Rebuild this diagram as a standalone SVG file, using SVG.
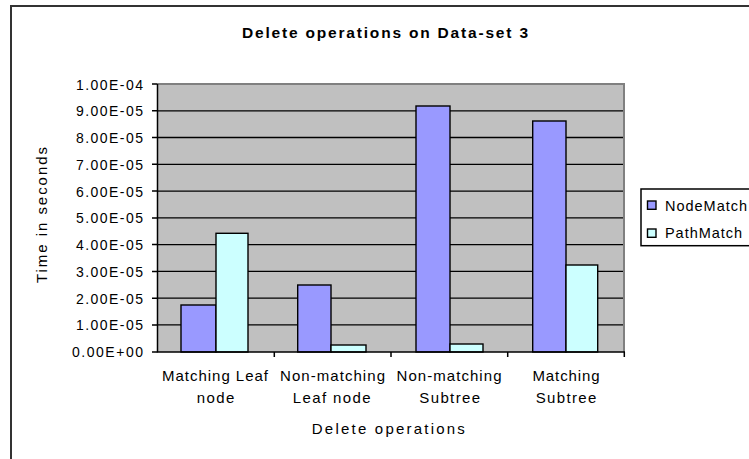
<svg xmlns="http://www.w3.org/2000/svg" width="749" height="459" viewBox="0 0 749 459">
  <style>
    text { font-family: "Liberation Sans", Arial, sans-serif; fill: #000; }
    .title { font-size: 15.5px; font-weight: bold; }
    .tick { font-size: 14px; text-anchor: end; }
    .cat { font-size: 15px; text-anchor: middle; }
    .axt { font-size: 15px; text-anchor: middle; }
    .leg { font-size: 14.5px; }
    .grid { stroke: #000; stroke-width: 1.3; }
    .axis { stroke: #000; stroke-width: 1.5; fill: none; }
    .node { fill: #9999FF; stroke: #000; stroke-width: 1.4; }
    .path { fill: #CCFFFF; stroke: #000; stroke-width: 1.4; }
  </style>

  <!-- chart frame (left and top edges visible) -->
  <rect x="11" y="6" width="800" height="500" fill="#fff" stroke="#333" stroke-width="2"/>

  <text class="title" x="242" y="37.7" textLength="286" lengthAdjust="spacing">Delete operations on Data-set 3</text>

  <!-- plot area -->
  <g id="plot">
    <rect x="157.5" y="84" width="466.5" height="268" fill="#C0C0C0"/>
    <g class="grid">
      <line x1="157.5" y1="110.8" x2="624" y2="110.8"/>
      <line x1="157.5" y1="137.5" x2="624" y2="137.5"/>
      <line x1="157.5" y1="164.3" x2="624" y2="164.3"/>
      <line x1="157.5" y1="191.1" x2="624" y2="191.1"/>
      <line x1="157.5" y1="217.9" x2="624" y2="217.9"/>
      <line x1="157.5" y1="244.6" x2="624" y2="244.6"/>
      <line x1="157.5" y1="271.4" x2="624" y2="271.4"/>
      <line x1="157.5" y1="298.2" x2="624" y2="298.2"/>
      <line x1="157.5" y1="324.9" x2="624" y2="324.9"/>
    </g>
    <!-- plot border top/right -->
    <path d="M157.5 84 H624 V352" fill="none" stroke="#808080" stroke-width="2"/>
  </g>

  <!-- bars -->
  <g id="bars">
    <rect class="node" x="181" y="305" width="35" height="47"/>
    <rect class="path" x="216" y="233.3" width="32" height="118.7"/>
    <rect class="node" x="297.7" y="285" width="33.3" height="67"/>
    <rect class="path" x="331" y="345" width="35" height="7"/>
    <rect class="node" x="416" y="106" width="34" height="246"/>
    <rect class="path" x="450" y="344" width="33" height="8"/>
    <rect class="node" x="532.7" y="121" width="33.3" height="231"/>
    <rect class="path" x="566" y="265" width="31.7" height="87"/>
  </g>

  <!-- axes and ticks -->
  <g id="axes" class="axis">
    <path d="M157.5 84 V352 H625"/>
    <path d="M152 84 H157.5 M152 110.8 H157.5 M152 137.5 H157.5 M152 164.3 H157.5 M152 191.1 H157.5 M152 217.9 H157.5 M152 244.6 H157.5 M152 271.4 H157.5 M152 298.2 H157.5 M152 324.9 H157.5 M152 352 H157.5"/>
    <path d="M274.3 352 V357 M391 352 V357 M507.7 352 V357 M624.3 352 V357"/>
  </g>

  <!-- value axis labels -->
  <g id="ylabels">
    <text class="tick" x="143" y="89.5" textLength="67" lengthAdjust="spacing">1.00E-04</text>
    <text class="tick" x="143" y="116.3" textLength="67" lengthAdjust="spacing">9.00E-05</text>
    <text class="tick" x="143" y="143" textLength="67" lengthAdjust="spacing">8.00E-05</text>
    <text class="tick" x="143" y="169.8" textLength="67" lengthAdjust="spacing">7.00E-05</text>
    <text class="tick" x="143" y="196.6" textLength="67" lengthAdjust="spacing">6.00E-05</text>
    <text class="tick" x="143" y="223.4" textLength="67" lengthAdjust="spacing">5.00E-05</text>
    <text class="tick" x="143" y="250.1" textLength="67" lengthAdjust="spacing">4.00E-05</text>
    <text class="tick" x="143" y="276.9" textLength="67" lengthAdjust="spacing">3.00E-05</text>
    <text class="tick" x="143" y="303.7" textLength="67" lengthAdjust="spacing">2.00E-05</text>
    <text class="tick" x="143" y="330.4" textLength="67" lengthAdjust="spacing">1.00E-05</text>
    <text class="tick" x="143" y="357.2" textLength="71" lengthAdjust="spacing">0.00E+00</text>
  </g>

  <text class="axt" transform="translate(46.5 215) rotate(-90)" x="0" y="0" textLength="136" lengthAdjust="spacing">Time in seconds</text>

  <!-- category labels -->
  <g id="xlabels">
    <text class="cat" x="215" y="380.7" textLength="106" lengthAdjust="spacing">Matching Leaf</text>
    <text class="cat" x="215.5" y="403" textLength="37.6" lengthAdjust="spacing">node</text>
    <text class="cat" x="332.5" y="380.7" textLength="105" lengthAdjust="spacing">Non-matching</text>
    <text class="cat" x="331.7" y="403" textLength="78" lengthAdjust="spacing">Leaf node</text>
    <text class="cat" x="449" y="380.7" textLength="105" lengthAdjust="spacing">Non-matching</text>
    <text class="cat" x="449.7" y="403" textLength="60.7" lengthAdjust="spacing">Subtree</text>
    <text class="cat" x="566" y="380.7" textLength="67" lengthAdjust="spacing">Matching</text>
    <text class="cat" x="566" y="403" textLength="60.7" lengthAdjust="spacing">Subtree</text>
  </g>

  <text class="axt" x="388.3" y="434" textLength="153" lengthAdjust="spacing">Delete operations</text>

  <!-- legend -->
  <g id="legend">
    <rect x="641" y="189" width="130" height="56.7" fill="#fff" stroke="#000" stroke-width="1.5"/>
    <rect class="node" x="647.5" y="201" width="8.5" height="8.3" stroke-width="1.2"/>
    <text class="leg" x="665" y="210.7" textLength="82" lengthAdjust="spacing">NodeMatch</text>
    <rect class="path" x="647.5" y="229" width="8.5" height="8.3" stroke-width="1.2"/>
    <text class="leg" x="665" y="238.3" textLength="77" lengthAdjust="spacing">PathMatch</text>
  </g>
</svg>
